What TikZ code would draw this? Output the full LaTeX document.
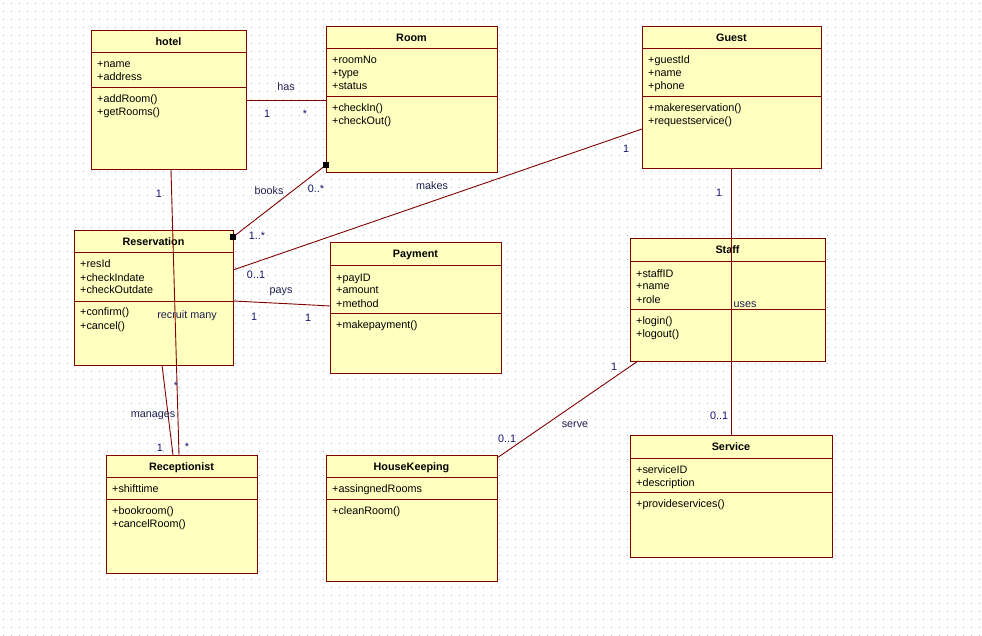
\documentclass[tikz,border=0pt]{standalone}
\usepackage{fontspec}
\setmainfont{Liberation Sans}
\usetikzlibrary{calc}

\definecolor{umlborder}{HTML}{800000}
\definecolor{umlfill}{HTML}{FFFFC0}
\definecolor{gridcol}{HTML}{B2B2B2}
\definecolor{assoclabel}{RGB}{30,30,80}
\definecolor{multlabel}{RGB}{20,20,110}

\tikzset{
  classbox/.style={draw=umlborder, fill=umlfill, line width=1pt, rectangle,
    inner sep=0pt, outer sep=0pt, anchor=north west},
  divider/.style={draw=umlborder, line width=1pt},
  titletext/.style={font=\fontsize{10.8}{13}\selectfont\bfseries, inner sep=0pt, anchor=base},
  membertext/.style={font=\fontsize{10.8}{13}\selectfont, inner sep=0pt, anchor=base west},
  assoc/.style={draw=umlborder, line width=0.9pt},
  rolename/.style={font=\fontsize{10.8}{13}\selectfont, text=assoclabel, inner sep=0pt, anchor=base},
  mult/.style={font=\fontsize{10.8}{13}\selectfont, text=multlabel, inner sep=0pt, anchor=base},
  endmark/.style={fill=black},
}

% \umlclass{id}{top-left}{width}{height}{header divider}{attribute divider}{title}{attributes}{operations}
\newcommand\umlclass[9]{%
  \node[classbox, minimum width=#3pt, minimum height=#4pt] (#1) at (#2) {};
  \draw[divider] ($(#1.north west)+(0,#5)$) -- ($(#1.north east)+(0,#5)$);
  \draw[divider] ($(#1.north west)+(0,#6)$) -- ($(#1.north east)+(0,#6)$);
  \node[titletext] (#1-title) at ($(#1.north)+(0,15)$) {#7};
  \foreach \t [count=\k] in {#8} {%
    \node[membertext] (#1-a\k) at ($(#1.north west)+(6,{#5+15+13*(\k-1)})$) {\t};}
  \foreach \t [count=\k] in {#9} {%
    \node[membertext] (#1-o\k) at ($(#1.north west)+(6,{#6+15+13*(\k-1)})$) {\t};}
}

\begin{document}
\begin{tikzpicture}[x=1pt, y=-1pt]
  \useasboundingbox (0,0) rectangle (982,636);
  \fill[white] (0,0) rectangle (982,636);

  % dotted drawing grid
  \foreach \i in {0,...,122} {
    \foreach \j in {0,...,79} {
      \fill[gridcol] (3+8*\i,3+8*\j) rectangle ++(1,1);
    }
  }

  % classes
  \umlclass{hotel}{91,31}{155}{139}{22}{57}{hotel}{+name,+address}{+addRoom(),+getRooms()}
  \umlclass{Room}{326,27}{171}{146}{22}{70}{Room}{+roomNo,+type,+status}{+checkIn(),+checkOut()}
  \umlclass{Guest}{642,27}{179}{142}{22}{70}{Guest}{+guestId,+name,+phone}{+makereservation(),+requestservice()}
  \umlclass{Reservation}{74,231}{159}{134}{22}{70}{Reservation}{+resId,+checkIndate,+checkOutdate}{+confirm(),+cancel()}
  \umlclass{Payment}{330,243}{171}{130}{23}{70}{Payment}{+payID,+amount,+method}{+makepayment()}
  \umlclass{Receptionist}{106,455}{151}{118}{22}{44}{Receptionist}{+shifttime}{+bookroom(),+cancelRoom()}
  \umlclass{HouseKeeping}{326,455}{171}{126}{22}{44}{HouseKeeping}{+assingnedRooms}{+cleanRoom()}
  \umlclass{Staff}{630,239}{195}{122}{23}{70}{Staff}{+staffID,+name,+role}{+login(),+logout()}
  \umlclass{Service}{630,435}{202}{122}{23}{57}{Service}{+serviceID,+description}{+provideservices()}

  % association end points
  \coordinate (booksA) at ($(Room.south west)+(0,-8)$);
  \coordinate (booksB) at ($(Reservation.north east)+(0,6)$);
  \coordinate (paysBend) at ($(Payment.north west)+(-37,61)$);

  % associations
  \draw[assoc] (hotel.east) -- (hotel.east -| Room.west);
  \draw[assoc] ($(hotel.south west)+(80,0)$) -- ($(Receptionist.north west)+(73,0)$);
  \draw[assoc] ($(Reservation.south west)+(88,0)$) -- ($(Receptionist.north west)+(67,0)$);
  \draw[assoc] (booksA) -- (booksB);
  \draw[assoc] ($(Guest.north west)+(0,102)$) -- ($(Reservation.north east)+(0,39)$);
  \draw[assoc] ($(Reservation.north east)+(0,70)$) -- (paysBend) -- ($(Payment.north west)+(0,63)$);
  \draw[assoc] ($(Guest.south west)+(89,0)$) -- ($(Service.north west)+(101,0)$);
  \draw[assoc] ($(Staff.south west)+(8,0)$) -- ($(HouseKeeping.north east)+(0,3)$);

  % aggregation markers on the books association
  \fill[endmark] ($(booksA)+(-3,-3)$) rectangle ++(6,6);
  \fill[endmark] ($(booksB)+(-3,-3)$) rectangle ++(6,6);

  % association names
  \node[rolename] (lHas) at (286,91) {has};
  \node[rolename] (lBooks) at (269,195) {books};
  \node[rolename] (lMakes) at (432,190) {makes};
  \node[rolename] (lPays) at (281,294) {pays};
  \node[rolename] (lRecruit) at (187,318) {recruit many};
  \node[rolename] (lManages) at (153,417) {manages};
  \node[rolename] (lUses) at (745,307) {uses};
  \node[rolename] (lServe) at (575,427) {serve};

  % multiplicities
  \node[mult] (mHas1) at (267,118) {1};
  \node[mult] (mHas2) at (305,118) {*};
  \node[mult] (mBooks1) at (316,193) {0..*};
  \node[mult] (mBooks2) at (257,240) {1..*};
  \node[mult] (mMakes1) at (626,153) {1};
  \node[mult] (mMakes2) at (256,279) {0..1};
  \node[mult] (mPays1) at (254,320) {1};
  \node[mult] (mPays2) at (308,321) {1};
  \node[mult] (mRecruit1) at (159,198) {1};
  \node[mult] (mRecruit2) at (187,450) {*};
  \node[mult] (mManages1) at (176,389) {*};
  \node[mult] (mManages2) at (160,451) {1};
  \node[mult] (mUses1) at (719,197) {1};
  \node[mult] (mUses2) at (719,419) {0..1};
  \node[mult] (mServe1) at (614,370) {1};
  \node[mult] (mServe2) at (507,442) {0..1};
\end{tikzpicture}
\end{document}
